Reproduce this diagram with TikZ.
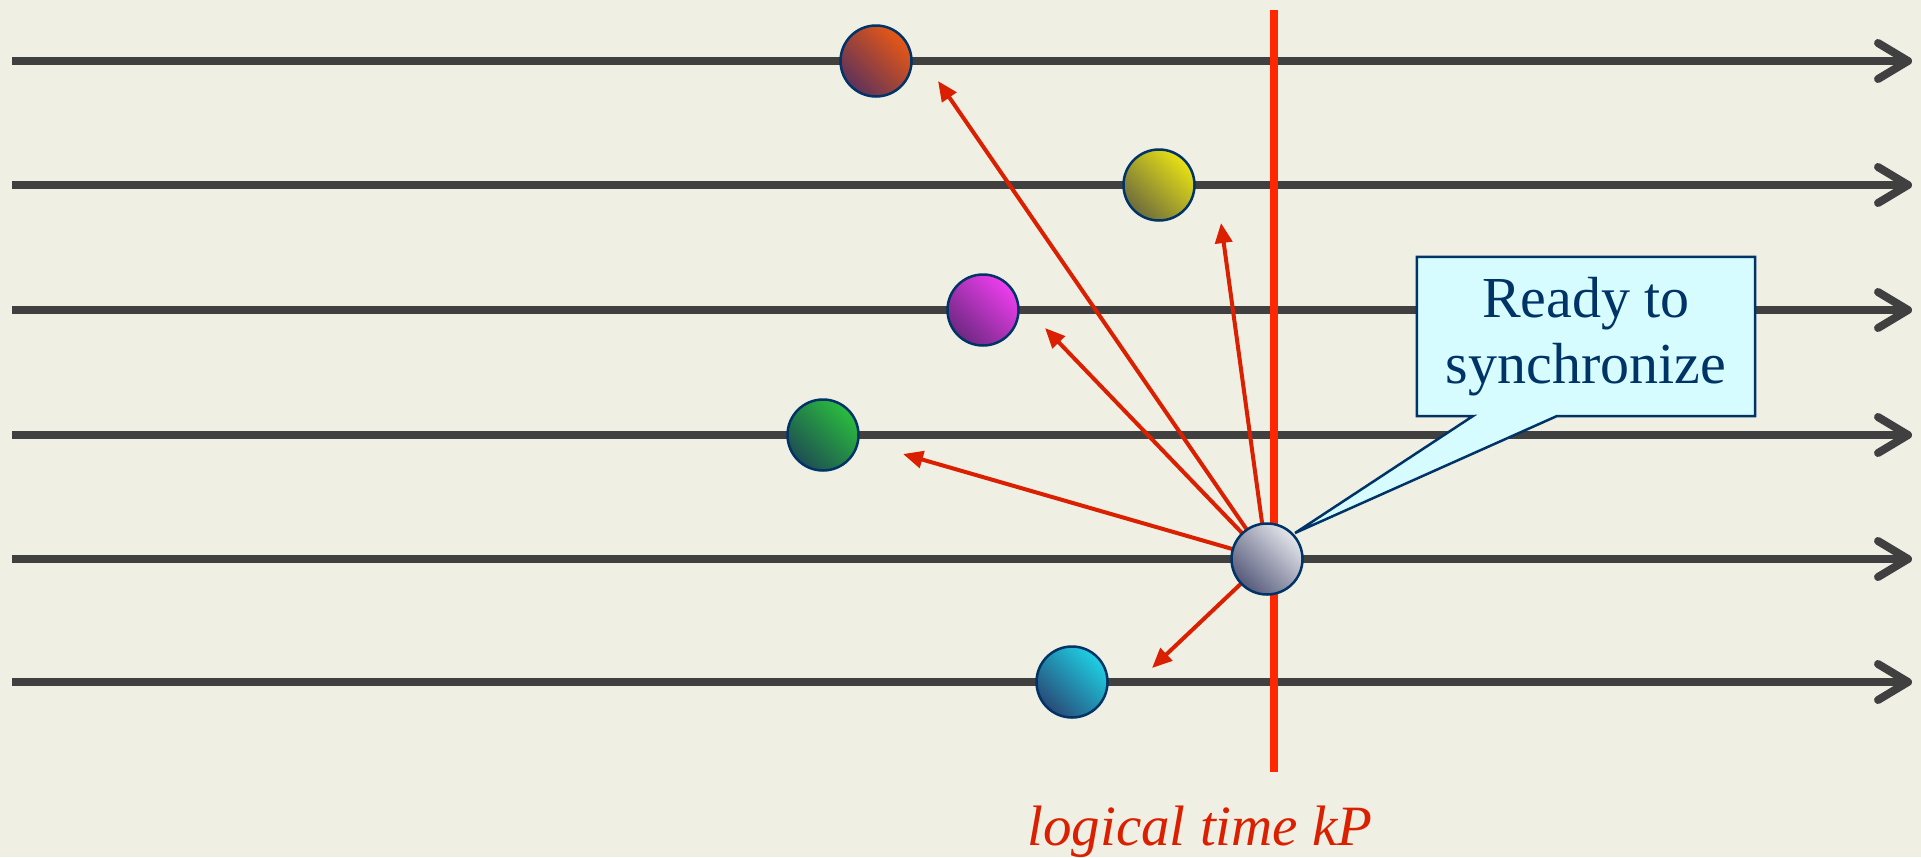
\documentclass[tikz,border=0pt]{standalone}
\usepackage{fontspec}
\setmainfont{Liberation Serif}
\usetikzlibrary{arrows.meta}
\definecolor{bgcol}{RGB}{240,239,228}
\definecolor{linegray}{RGB}{64,64,64}
\definecolor{vred}{RGB}{255,38,0}
\definecolor{ared}{RGB}{218,32,0}
\definecolor{navy}{RGB}{0,51,102}
\definecolor{callfill}{RGB}{214,252,255}
\definecolor{redL}{RGB}{232,88,20}\definecolor{redD}{RGB}{95,50,90}
\definecolor{yelL}{RGB}{232,226,20}\definecolor{yelD}{RGB}{110,108,60}
\definecolor{magL}{RGB}{238,62,238}\definecolor{magD}{RGB}{110,40,130}
\definecolor{grnL}{RGB}{42,188,62}\definecolor{grnD}{RGB}{30,78,82}
\definecolor{gryL}{RGB}{228,229,235}\definecolor{gryD}{RGB}{85,90,122}
\definecolor{cyaL}{RGB}{30,208,228}\definecolor{cyaD}{RGB}{40,75,120}
\tikzset{
  timeline/.style={draw=linegray, line width=8pt, -{Straight Barb[length=30pt, width=36pt, line cap=round, line join=round]}},
  msg/.style={draw=ared, line width=4pt, -{Triangle[length=20pt, width=17pt]}},
  ball/.style 2 args={circle, minimum size=71pt, inner sep=0pt, draw=navy, line width=2.5pt,
     top color=#1, bottom color=#2, shading angle=-45},
  calltext/.style={text=navy, align=center, font=\fontsize{58}{66}\selectfont,
     minimum width=338pt, minimum height=159pt, inner sep=0pt},
}
\begin{document}
\begin{tikzpicture}[x=1pt, y=-1pt]
\fill[bgcol] (0,0) rectangle (1921,857);
\useasboundingbox (0,0) rectangle (1921,857);
% timelines
\foreach \i/\y in {1/61, 2/185, 3/310, 4/435, 5/559, 6/682} {
  \coordinate (s\i) at (12,\y);
  \coordinate (e\i) at (1912,\y);
  \draw[timeline] (s\i) -- (e\i);
}
% logical time line
\coordinate (vt) at (1274,10);
\coordinate (vb) at (1274,772);
\draw[vred, line width=8pt] (vt) -- (vb);
% grey ball position
\coordinate (gc) at (1267,559);
% message arrow ends
\coordinate (t1) at (938,81);
\coordinate (t2) at (1221,223);
\coordinate (t3) at (1045,328);
\coordinate (t4) at (903,454);
\coordinate (t6) at (1152,668);
\foreach \t in {t1,t2,t3,t4,t6} { \draw[msg] (gc) -- (\t); }
% callout
\node[calltext] (call) at (1586,336.5) {Ready to\\synchronize};
\coordinate (pl) at (1473,416);
\coordinate (pr) at (1557,416);
\coordinate (ptip) at (1295,533);
\draw[fill=callfill, draw=navy, line width=2.5pt, line join=miter]
  (call.south west) -- (pl) -- (ptip) -- (pr) -- (call.south east) -- (call.north east) -- (call.north west) -- cycle;
\node[calltext] at (call.center) {Ready to\\synchronize};
% balls
\node[ball={redL}{redD}] (b1) at (876,61) {};
\node[ball={yelL}{yelD}] (b2) at (1159,185) {};
\node[ball={magL}{magD}] (b3) at (983,310) {};
\node[ball={grnL}{grnD}] (b4) at (823,435) {};
\node[ball={gryL}{gryD}] (b5) at (gc) {};
\node[ball={cyaL}{cyaD}] (b6) at (1072,682) {};
% label
\node[anchor=base, text=ared, font=\fontsize{57}{60}\selectfont\itshape] (lab) at (1200,845) {logical time kP};
\end{tikzpicture}
\end{document}
